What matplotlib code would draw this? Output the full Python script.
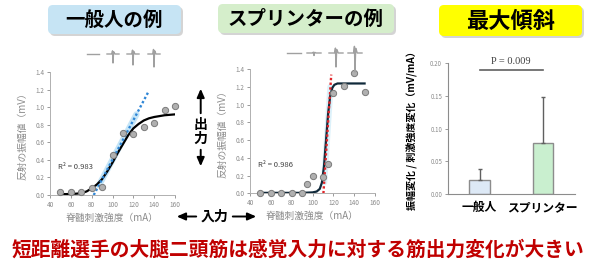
import matplotlib
matplotlib.use("Agg")
import matplotlib.pyplot as plt
from matplotlib.patches import FancyBboxPatch
import numpy as np

plt.rcParams['font.family'] = ['Noto Sans CJK JP', 'DejaVu Sans']

# --- data ---
stim_left = [50, 60, 70, 80, 90, 100, 110, 120, 130, 140, 150, 160]
amp_left = [0.03, 0.03, 0.035, 0.076, 0.087, 0.46, 0.71, 0.70, 0.78, 0.82, 0.97, 1.01]
curve_x_left = [50, 55, 60, 65, 70, 75, 80, 85, 90, 95, 100, 105, 110, 115,
                120, 125, 130, 135, 140, 145, 150, 155, 160]
curve_y_left = [0.01, 0.01, 0.012, 0.015, 0.02, 0.04, 0.075, 0.12, 0.18, 0.27,
                0.37, 0.48, 0.58, 0.68, 0.76, 0.81, 0.85, 0.875, 0.89, 0.90,
                0.91, 0.915, 0.92]
fit_x_left = [82, 135]
fit_y_left = [0.0, 1.19]
glow_x_left = [87, 123]
glow_y_left = [0.11, 0.92]
r2_left = "R² = 0.983"

stim_mid = [50, 60, 70, 80, 90, 95, 100, 110, 115, 120, 130, 140, 150]
amp_mid = [0.0, 0.0, 0.0, 0.0, 0.0, 0.10, 0.20, 0.18, 0.335, 1.13, 1.21, 1.36, 1.14]
curve_x_mid = [50, 60, 70, 80, 90, 100, 104, 107, 109, 111, 113, 115, 117,
               119, 121, 124, 130, 140, 150]
curve_y_mid = [0.005, 0.005, 0.005, 0.005, 0.005, 0.01, 0.02, 0.05, 0.12, 0.3,
               0.6, 0.9, 1.1, 1.19, 1.225, 1.24, 1.24, 1.24, 1.24]
fit_x_mid = [110.5, 118]
fit_y_mid = [0.0, 1.34]
glow_x_mid = [111.2, 117.2]
glow_y_mid = [0.125, 1.2]
r2_mid = "R² = 0.986"

groups = ["一般人", "スプリンター"]
slope_mean = [0.022, 0.078]
slope_err = [0.017, 0.070]
bar_colors = ["#dde9f6", "#c9efcf"]
p_text = "P = 0.009"

fig = plt.figure(figsize=(6.1, 2.72), dpi=100)

grey = "#8a8a8a"


def scatter_panel(rect, sx, sy, cx, cy, fx, fy, gx, gy, r2, curve_col, fit_col, glow_col):
    ax = fig.add_axes(rect)
    ax.plot(gx, gy, color=glow_col, lw=4.5, alpha=0.6, solid_capstyle='round', zorder=2)
    ax.plot(cx, cy, color=curve_col, lw=1.6, zorder=3)
    ax.plot(fx, fy, color=fit_col, lw=1.7, ls=(0, (1, 1)), zorder=4)
    ax.plot(sx, sy, 'o', ms=4.5, mfc="#b0b0b0", mec="#7a7a7a", mew=0.7,
            zorder=5, clip_on=False)
    ax.text(48, 0.32, r2, fontsize=5.5, color="#404040", va='center')
    ax.set_xlim(40, 160)
    ax.set_ylim(0, 1.4)
    ax.set_xticks(range(40, 161, 20))
    ax.set_yticks(np.arange(0, 1.41, 0.2))
    ax.set_yticklabels([f"{v:.1f}" for v in np.arange(0, 1.41, 0.2)])
    ax.tick_params(labelsize=4.6, colors=grey, length=2, width=0.6, pad=2)
    for s in ["top", "right"]:
        ax.spines[s].set_visible(False)
    for s in ["left", "bottom"]:
        ax.spines[s].set_color("#b0b0b0")
        ax.spines[s].set_linewidth(0.7)
    ax.set_xlabel("脊髄刺激強度（mA）", fontsize=7, color=grey, labelpad=3)
    ax.set_ylabel("反射の振幅値（mV）", fontsize=7, color=grey, labelpad=6)
    return ax


scatter_panel([50 / 610, 77 / 272, 125 / 610, 122.7 / 272],
              stim_left, amp_left, curve_x_left, curve_y_left,
              fit_x_left, fit_y_left, glow_x_left, glow_y_left, r2_left,
              "black", "#2f86d6", "#9fd5f3")
scatter_panel([250 / 610, 78.7 / 272, 125 / 610, 124 / 272],
              stim_mid, amp_mid, curve_x_mid, curve_y_mid,
              fit_x_mid, fit_y_mid, glow_x_mid, glow_y_mid, r2_mid,
              "#10293a", "#e0262a", "#c6e9f8")

# bar chart
axb = fig.add_axes([447.7 / 610, 77.7 / 272, 127.3 / 610, 131.6 / 272])
xpos = np.arange(len(groups))
axb.bar(xpos, slope_mean, width=0.32, color=bar_colors, edgecolor="#8c8c8c", lw=1.0, zorder=2)
axb.errorbar(xpos, slope_mean, yerr=[[0, 0], slope_err], fmt='none',
             ecolor="#606060", elinewidth=1.0, capsize=1.5, capthick=1.0, zorder=3)
axb.plot([0, 1], [0.189, 0.189], color="#606060", lw=1.2, clip_on=False)
axb.text(0.5, 0.2015, p_text, ha='center', va='center', fontsize=7.5,
         family='Liberation Serif', color="#404040")
axb.set_xlim(-0.505, 1.513)
axb.set_ylim(0, 0.2)
axb.set_yticks(np.arange(0, 0.201, 0.05))
axb.set_yticklabels([f"{v:.2f}" for v in np.arange(0, 0.201, 0.05)])
axb.tick_params(axis='y', labelsize=4.4, colors=grey, length=2, width=0.6, pad=2)
axb.set_xticks(xpos)
axb.set_xticklabels(groups, fontsize=8.5, fontweight='bold')
axb.tick_params(axis='x', length=0, pad=5)
for s in ["top", "right"]:
    axb.spines[s].set_visible(False)
for s in ["left", "bottom"]:
    axb.spines[s].set_color("#8c8c8c")
    axb.spines[s].set_linewidth(0.8)
axb.set_ylabel("振幅変化 / 刺激強度変化（mV/mA）", fontsize=7.2, fontweight='bold', labelpad=9)

# overlay for titles, arrows and icons (pixel coordinates)
ov = fig.add_axes([0, 0, 1, 1], zorder=10)
ov.set_xlim(0, 610)
ov.set_ylim(272, 0)
ov.axis('off')


def title_box(x, y, w, h, color, text, size):
    ov.add_patch(FancyBboxPatch((x + 2, y + 2), w, h, boxstyle="round,pad=0,rounding_size=5",
                                fc="#b8b8b8", ec="none", alpha=0.6))
    ov.add_patch(FancyBboxPatch((x, y), w, h, boxstyle="round,pad=0,rounding_size=5",
                                fc=color, ec="none"))
    ov.text(x + w / 2, y + h / 2 + 0.5, text, ha='center', va='center',
            fontsize=size, fontweight='bold')


title_box(48, 5, 133, 29, "#c6e4f4", "一般人の例", 14)
title_box(218, 4, 176, 29, "#d5eecb", "スプリンターの例", 14)
title_box(439, 5, 143, 31, "#ffff00", "最大傾斜", 16)

# little EMG traces
wave_t = np.array([0, 0.40, 0.46, 0.50, 0.55, 0.60, 0.66, 1.0])
wave_y = np.array([0, 0, -0.35, 1.0, -0.25, -0.15, 0, 0])


def trace(x0, w, yb, amp):
    ov.plot(x0 + wave_t * w, yb + wave_y * amp, color="#a0a0a0", lw=1.0)


for x0, amp in [(87, 0), (107, 9), (127, 11), (148, 13)]:
    trace(x0, 12, 54, amp)
for x0, amp in [(287, 0), (307, 2.5), (329, 14), (348, 19)]:
    trace(x0, 14, 53, amp)

# arrows
akw = dict(arrowstyle="-|>,head_length=0.5,head_width=0.22", color="black", lw=1.4)
ov.annotate("", xy=(200.7, 86), xytext=(200.7, 116), arrowprops=akw)
ov.annotate("", xy=(200.7, 169), xytext=(200.7, 147), arrowprops=akw)
ov.text(200.7, 124.5, "出", ha='center', va='center', fontsize=10, fontweight='bold')
ov.text(200.7, 139, "力", ha='center', va='center', fontsize=10, fontweight='bold')
ov.annotate("", xy=(174, 216.5), xytext=(199, 216.5), arrowprops=akw)
ov.annotate("", xy=(259, 216.5), xytext=(230, 216.5), arrowprops=akw)
ov.text(214.5, 216.5, "入力", ha='center', va='center', fontsize=10, fontweight='bold')

ov.text(298, 250, "短距離選手の大腿二頭筋は感覚入力に対する筋出力変化が大きい",
        ha='center', va='center', fontsize=14.2, fontweight='bold', color="#c00000")

fig.savefig("out.png", dpi=100)
